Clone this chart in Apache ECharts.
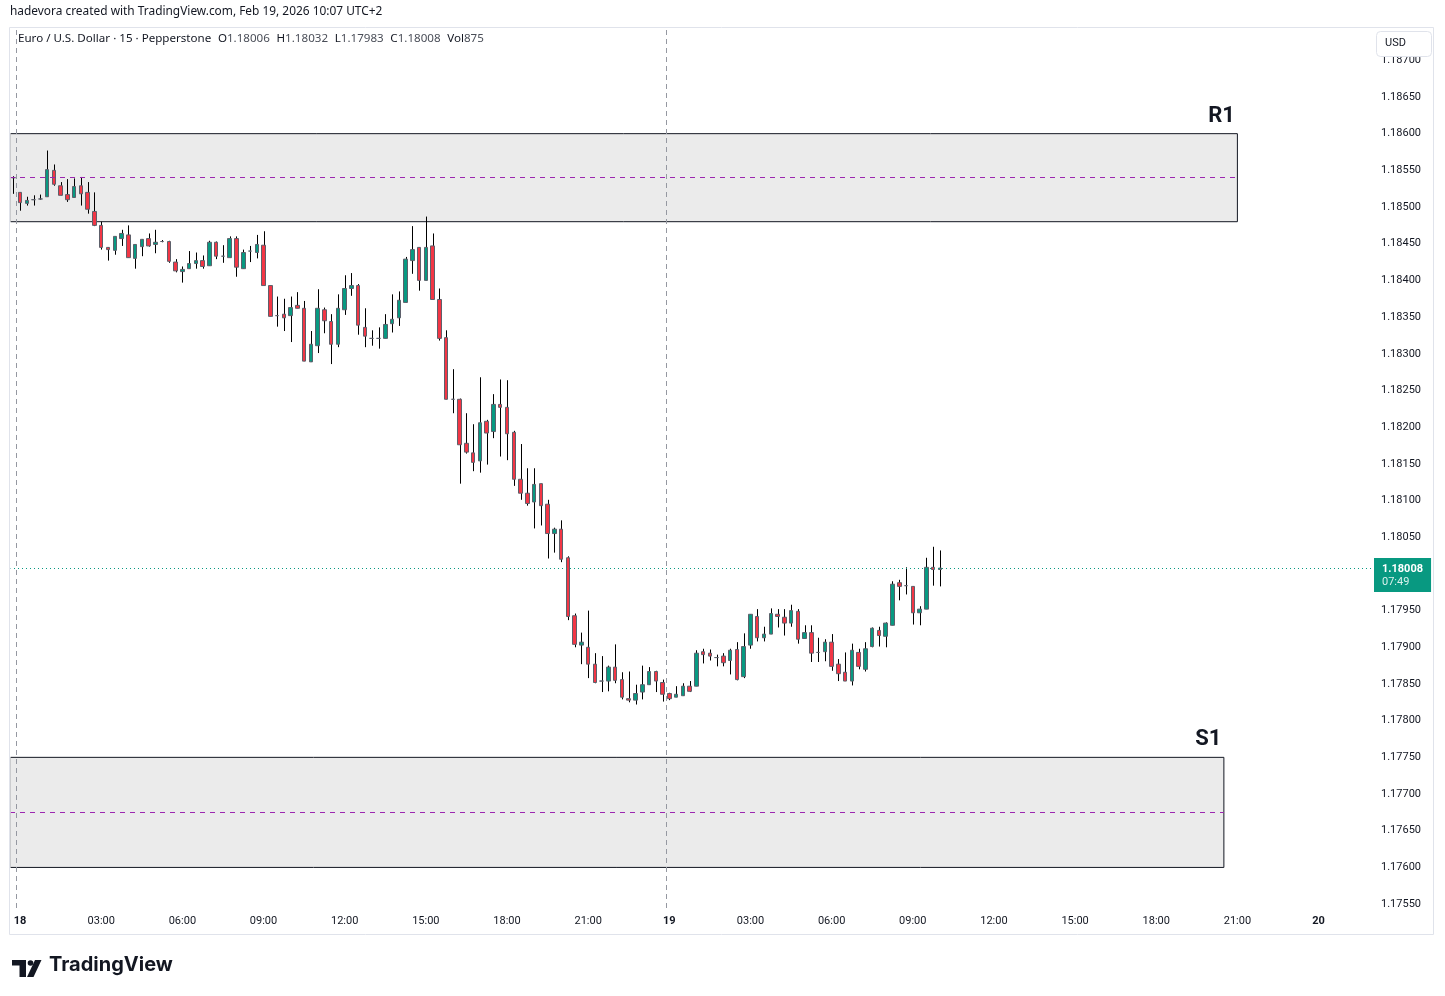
<!DOCTYPE html>
<html>
<head>
<meta charset="utf-8">
<title>EURUSD 15m</title>
<script src="https://cdn.jsdelivr.net/npm/echarts@6/dist/echarts.min.js"></script>
<style>
  html, body { margin: 0; padding: 0; background: #fff; }
  #main { width: 1445px; height: 996px; }
</style>
</head>
<body>
<div id="main"></div>
<script>
// 15 min candles, first one is Feb 17 23:45 -> slot -1, slot 0 = Feb 18 00:00
const opens = [
  1.18540, 1.18520, 1.18505, 1.18510, 1.18511, 1.18514, 1.18550, 1.18529, 1.18517, 1.18513,
  1.18529, 1.18520, 1.18494, 1.18475, 1.18445, 1.18441, 1.18457, 1.18462, 1.18430, 1.18446,
  1.18457, 1.18449, 1.18453, 1.18453, 1.18425, 1.18412, 1.18416, 1.18423, 1.18427, 1.18420,
  1.18452, 1.18433, 1.18431, 1.18457, 1.18416, 1.18440, 1.18438, 1.18448, 1.18393, 1.18352,
  1.18354, 1.18352, 1.18366, 1.18362, 1.18289, 1.18311, 1.18360, 1.18344, 1.18313, 1.18360,
  1.18389, 1.18393, 1.18336, 1.18321, 1.18321, 1.18321, 1.18341, 1.18349, 1.18370, 1.18427,
  1.18445, 1.18400, 1.18447, 1.18374, 1.18322, 1.18238, 1.18238, 1.18178, 1.18165, 1.18154,
  1.18208, 1.18194, 1.18231, 1.18227, 1.18193, 1.18129, 1.18110, 1.18098, 1.18123, 1.18095,
  1.18055, 1.18061, 1.18022, 1.17943, 1.17903, 1.17900, 1.17877, 1.17854, 1.17854, 1.17873,
  1.17856, 1.17830, 1.17828, 1.17839, 1.17849, 1.17867, 1.17852, 1.17837, 1.17832, 1.17834,
  1.17847, 1.17847, 1.17894, 1.17892, 1.17886, 1.17888, 1.17882, 1.17897, 1.17860, 1.17903,
  1.17942, 1.17913, 1.17918, 1.17945, 1.17941, 1.17933, 1.17949, 1.17912, 1.17920, 1.17893,
  1.17894, 1.17907, 1.17877, 1.17866, 1.17854, 1.17893, 1.17870, 1.17901, 1.17923, 1.17915,
  1.17930, 1.17988, 1.17984, 1.17983, 1.17947, 1.17952, 1.18009, 1.18006
];
const closes = [
  1.18540, 1.18506, 1.18509, 1.18510, 1.18511, 1.18551, 1.18531, 1.18516, 1.18510, 1.18528,
  1.18518, 1.18497, 1.18475, 1.18445, 1.18442, 1.18460, 1.18464, 1.18431, 1.18449, 1.18456,
  1.18447, 1.18452, 1.18453, 1.18426, 1.18413, 1.18415, 1.18423, 1.18427, 1.18419, 1.18452,
  1.18433, 1.18433, 1.18457, 1.18418, 1.18438, 1.18440, 1.18449, 1.18393, 1.18351, 1.18352,
  1.18349, 1.18363, 1.18362, 1.18290, 1.18313, 1.18362, 1.18345, 1.18313, 1.18362, 1.18389,
  1.18393, 1.18339, 1.18324, 1.18321, 1.18321, 1.18340, 1.18347, 1.18373, 1.18429, 1.18442,
  1.18400, 1.18445, 1.18374, 1.18321, 1.18238, 1.18238, 1.18176, 1.18166, 1.18152, 1.18206,
  1.18192, 1.18231, 1.18227, 1.18191, 1.18129, 1.18110, 1.18096, 1.18122, 1.18093, 1.18055,
  1.18061, 1.18020, 1.17942, 1.17904, 1.17907, 1.17877, 1.17852, 1.17854, 1.17873, 1.17855,
  1.17832, 1.17828, 1.17837, 1.17849, 1.17867, 1.17854, 1.17836, 1.17830, 1.17836, 1.17847,
  1.17840, 1.17892, 1.17890, 1.17888, 1.17886, 1.17879, 1.17896, 1.17856, 1.17901, 1.17945,
  1.17913, 1.17918, 1.17946, 1.17942, 1.17933, 1.17950, 1.17911, 1.17920, 1.17892, 1.17893,
  1.17907, 1.17874, 1.17864, 1.17854, 1.17896, 1.17874, 1.17898, 1.17926, 1.17916, 1.17933,
  1.17986, 1.17983, 1.17984, 1.17947, 1.17952, 1.18009, 1.18006, 1.18008
];
const lows = [
  1.18518, 1.18495, 1.18502, 1.18502, 1.18510, 1.18514, 1.18529, 1.18516, 1.18507, 1.18513,
  1.18502, 1.18491, 1.18474, 1.18442, 1.18427, 1.18435, 1.18447, 1.18431, 1.18416, 1.18433,
  1.18446, 1.18437, 1.18452, 1.18424, 1.18411, 1.18397, 1.18416, 1.18416, 1.18416, 1.18420,
  1.18429, 1.18424, 1.18431, 1.18405, 1.18416, 1.18425, 1.18430, 1.18393, 1.18351, 1.18337,
  1.18331, 1.18316, 1.18362, 1.18290, 1.18289, 1.18301, 1.18328, 1.18286, 1.18309, 1.18353,
  1.18379, 1.18326, 1.18309, 1.18311, 1.18307, 1.18321, 1.18329, 1.18338, 1.18370, 1.18409,
  1.18386, 1.18400, 1.18374, 1.18318, 1.18238, 1.18219, 1.18123, 1.18164, 1.18140, 1.18138,
  1.18149, 1.18185, 1.18160, 1.18155, 1.18120, 1.18101, 1.18093, 1.18062, 1.18066, 1.18021,
  1.18029, 1.18016, 1.17937, 1.17900, 1.17877, 1.17858, 1.17851, 1.17839, 1.17840, 1.17851,
  1.17829, 1.17825, 1.17822, 1.17829, 1.17849, 1.17839, 1.17826, 1.17828, 1.17832, 1.17834,
  1.17839, 1.17847, 1.17878, 1.17882, 1.17874, 1.17874, 1.17863, 1.17855, 1.17858, 1.17898,
  1.17908, 1.17908, 1.17918, 1.17927, 1.17916, 1.17928, 1.17905, 1.17912, 1.17880, 1.17880,
  1.17881, 1.17868, 1.17854, 1.17854, 1.17848, 1.17870, 1.17867, 1.17900, 1.17901, 1.17900,
  1.17930, 1.17964, 1.17972, 1.17931, 1.17930, 1.17952, 1.17984, 1.17983
];
const highs = [
  1.18542, 1.18520, 1.18514, 1.18516, 1.18517, 1.18577, 1.18558, 1.18534, 1.18538, 1.18539,
  1.18541, 1.18534, 1.18520, 1.18480, 1.18445, 1.18460, 1.18469, 1.18475, 1.18449, 1.18456,
  1.18464, 1.18469, 1.18455, 1.18454, 1.18429, 1.18419, 1.18440, 1.18438, 1.18434, 1.18454,
  1.18453, 1.18448, 1.18460, 1.18460, 1.18442, 1.18447, 1.18462, 1.18467, 1.18393, 1.18378,
  1.18375, 1.18378, 1.18384, 1.18372, 1.18331, 1.18388, 1.18363, 1.18354, 1.18381, 1.18407,
  1.18410, 1.18395, 1.18362, 1.18332, 1.18336, 1.18354, 1.18381, 1.18385, 1.18432, 1.18474,
  1.18445, 1.18487, 1.18464, 1.18389, 1.18332, 1.18279, 1.18239, 1.18219, 1.18204, 1.18268,
  1.18210, 1.18245, 1.18265, 1.18264, 1.18195, 1.18177, 1.18144, 1.18144, 1.18123, 1.18101,
  1.18063, 1.18073, 1.18024, 1.17946, 1.17920, 1.17950, 1.17892, 1.17888, 1.17875, 1.17904,
  1.17866, 1.17867, 1.17849, 1.17875, 1.17873, 1.17868, 1.17856, 1.17838, 1.17847, 1.17851,
  1.17854, 1.17896, 1.17898, 1.17897, 1.17890, 1.17892, 1.17898, 1.17907, 1.17919, 1.17945,
  1.17952, 1.17928, 1.17953, 1.17952, 1.17952, 1.17958, 1.17952, 1.17930, 1.17930, 1.17913,
  1.17911, 1.17918, 1.17884, 1.17893, 1.17905, 1.17898, 1.17907, 1.17927, 1.17928, 1.17934,
  1.17990, 1.17992, 1.18009, 1.17983, 1.17956, 1.18022, 1.18037, 1.18032
];
const firstSlot = -1;
const lastVolume = 875;

// support / resistance zones
const r1Zone = [1.18480, 1.18600];
const s1Zone = [1.17600, 1.17750];
const r1End = 180;   // Feb 19 21:00
const s1End = 178;
const sessionBreaks = [-0.5, 95.5];

const timeTicks = [0, 12, 24, 36, 48, 60, 72, 84, 96, 108, 120, 132, 144, 156, 168, 180, 192];
const priceTicks = [1.17550, 1.17600, 1.17650, 1.17700, 1.17750, 1.17800, 1.17850, 1.17900,
  1.17950, 1.18000, 1.18050, 1.18100, 1.18150, 1.18200, 1.18250, 1.18300, 1.18350, 1.18400,
  1.18450, 1.18500, 1.18550, 1.18600, 1.18650, 1.18700];

const xMin = -1.49, xMax = 200.05;
const yMin = 1.175447, yMax = 1.18744;

const UP = '#089981', DOWN = '#f23645', EDGE = '#5d606b', INK = '#131722';
const FONT = 'Roboto, "Noto Sans", sans-serif';
const TEXT_FONT = '"Noto Sans", Roboto, sans-serif';

const bodies = opens.map((o, i) => [i + firstSlot, o, closes[i], Math.min(o, closes[i]), Math.max(o, closes[i])]);
const wicks = opens.map((o, i) => [i + firstSlot, lows[i], highs[i]]);
const last = opens.length - 1;
const lastPrice = closes[last];

const myChart = echarts.init(document.getElementById('main'), null, { renderer: 'canvas' });

const dashedPurple = { color: '#9c27b0', type: [5, 5], width: 1 };
const zoneLabel = {
  show: true, position: ['100%', 0], align: 'right', verticalAlign: 'bottom',
  offset: [-3, -6], fontSize: 22, fontWeight: 'bold', color: INK, fontFamily: FONT
};
const r1Mid = (r1Zone[0] + r1Zone[1]) / 2;
const s1Mid = (s1Zone[0] + s1Zone[1]) / 2;

const option = {
  animation: false,
  backgroundColor: '#fff',
  textStyle: { fontFamily: FONT },
  grid: { left: 10, right: 72, top: 28, bottom: 88 },
  xAxis: {
    type: 'value',
    min: xMin,
    max: xMax,
    axisLine: { show: false },
    axisTick: { show: false },
    splitLine: { show: false },
    axisLabel: {
      customValues: timeTicks,
      margin: 8,
      fontSize: 11,
      color: INK,
      fontFamily: FONT,
      formatter: (v) => {
        if (v % 96 === 0) return '{d|' + (18 + v / 96) + '}';
        return String((v / 4) % 24).padStart(2, '0') + ':00';
      },
      rich: { d: { fontWeight: 'bold', fontSize: 11, color: INK, fontFamily: FONT } }
    }
  },
  yAxis: {
    type: 'value',
    position: 'right',
    min: yMin,
    max: yMax,
    axisLine: { show: false },
    axisTick: { show: false },
    splitLine: { show: false },
    axisLabel: {
      customValues: priceTicks,
      margin: 8,
      fontSize: 11,
      color: INK,
      fontFamily: FONT,
      formatter: (v) => v.toFixed(5)
    }
  },
  series: [
    {
      // zones and lines
      type: 'line',
      data: [],
      markArea: {
        silent: true,
        itemStyle: { color: '#ebebeb', borderColor: INK, borderWidth: 1 },
        data: [
          [{ name: 'R1', xAxis: xMin, yAxis: r1Zone[1], label: zoneLabel }, { xAxis: r1End, yAxis: r1Zone[0] }],
          [{ name: 'S1', xAxis: xMin, yAxis: s1Zone[1], label: zoneLabel }, { xAxis: s1End, yAxis: s1Zone[0] }]
        ]
      },
      markLine: {
        silent: true,
        precision: 5,
        symbol: ['none', 'none'],
        label: { show: false },
        data: [
          [{ coord: [xMin, r1Mid], lineStyle: dashedPurple }, { coord: [r1End, r1Mid] }],
          [{ coord: [xMin, s1Mid], lineStyle: dashedPurple }, { coord: [s1End, s1Mid] }],
          { xAxis: sessionBreaks[0], lineStyle: { color: '#9598a1', type: [5, 4], width: 1 } },
          { xAxis: sessionBreaks[1], lineStyle: { color: '#9598a1', type: [5, 4], width: 1 } },
          {
            yAxis: lastPrice,
            lineStyle: { color: UP, type: [1, 3], width: 1 },
            label: {
              show: true,
              position: 'end',
              distance: 1,
              offset: [0, 7],
              formatter: () => '{a|' + lastPrice.toFixed(5) + '}\n{b|07:49}',
              backgroundColor: UP,
              padding: [4, 8, 3, 8],
              align: 'left',
              rich: {
                a: { color: '#fff', fontSize: 11, fontWeight: 'bold', lineHeight: 14, fontFamily: FONT },
                b: { color: '#d9f1ec', fontSize: 11, lineHeight: 13, fontFamily: FONT }
              }
            }
          }
        ]
      }
    },
    {
      type: 'custom',
      z: 3,
      data: wicks,
      encode: { x: 0, y: [1, 2] },
      renderItem: (params, api) => {
        const lo = api.coord([api.value(0), api.value(1)]);
        const hi = api.coord([api.value(0), api.value(2)]);
        const x = Math.round(lo[0]) + 0.5;
        return {
          type: 'line',
          shape: { x1: x, y1: lo[1], x2: x, y2: hi[1] },
          style: { stroke: '#000', lineWidth: 1 }
        };
      }
    },
    {
      type: 'candlestick',
      z: 4,
      data: bodies,
      barWidth: 4,
      itemStyle: {
        color: UP,
        color0: DOWN,
        borderColor: EDGE,
        borderColor0: EDGE,
        borderColorDoji: EDGE,
        borderWidth: 1
      }
    }
  ],
  graphic: [
    // hides the zone's left edge, which sits on the frame
    { type: 'rect', z: 100, shape: { x: 0, y: 0, width: 10.6, height: 996 }, style: { fill: '#fff' } },
    { type: 'rect', z: 100, shape: { x: 9.5, y: 27.5, width: 1424, height: 907 }, style: { fill: 'none', stroke: '#e0e3eb', lineWidth: 1 } },
    {
      type: 'text', z: 100, left: 10, top: 6,
      style: { text: 'hadevora created with TradingView.com, Feb 19, 2026 10:07 UTC+2', fill: INK, fontSize: 11.9, fontFamily: TEXT_FONT }
    },
    {
      type: 'text', z: 100, left: 18, top: 33,
      style: {
        text: '{t|Euro / U.S. Dollar · 15 · Pepperstone}  {k|O}{v|' + opens[last].toFixed(5) + '}  {k|H}{v|' + highs[last].toFixed(5) +
          '}  {k|L}{v|' + lows[last].toFixed(5) + '}  {k|C}{v|' + closes[last].toFixed(5) + '}  {k|Vol}{v|' + lastVolume + '}',
        rich: {
          t: { fill: INK, fontSize: 11.6, fontFamily: TEXT_FONT },
          k: { fill: INK, fontSize: 11.6, fontFamily: TEXT_FONT },
          v: { fill: '#4a4e58', fontSize: 11.6, fontFamily: TEXT_FONT }
        }
      }
    },
    { type: 'rect', z: 100, shape: { x: 1376.5, y: 31.5, width: 55, height: 25, r: 4 }, style: { fill: '#fff', stroke: '#e0e3eb', lineWidth: 1 } },
    { type: 'text', z: 101, left: 1385, top: 38, style: { text: 'USD', fill: INK, fontSize: 11, fontFamily: FONT } },
    // TradingView logo
    { type: 'rect', z: 100, shape: { x: 12, y: 960, width: 14, height: 5.5 }, style: { fill: INK } },
    { type: 'rect', z: 100, shape: { x: 19.5, y: 960, width: 6.5, height: 17 }, style: { fill: INK } },
    { type: 'circle', z: 100, shape: { cx: 30.5, cy: 963, r: 2.8 }, style: { fill: INK } },
    { type: 'polygon', z: 100, shape: { points: [[35, 960], [41.5, 960], [33.5, 977], [27, 977]] }, style: { fill: INK } },
    { type: 'text', z: 100, left: 49, top: 955, style: { text: 'TradingView', fill: INK, fontSize: 20, fontWeight: 'bold', fontFamily: 'Inter, Roboto, sans-serif' } }
  ]
};

myChart.setOption(option);
</script>
</body>
</html>
